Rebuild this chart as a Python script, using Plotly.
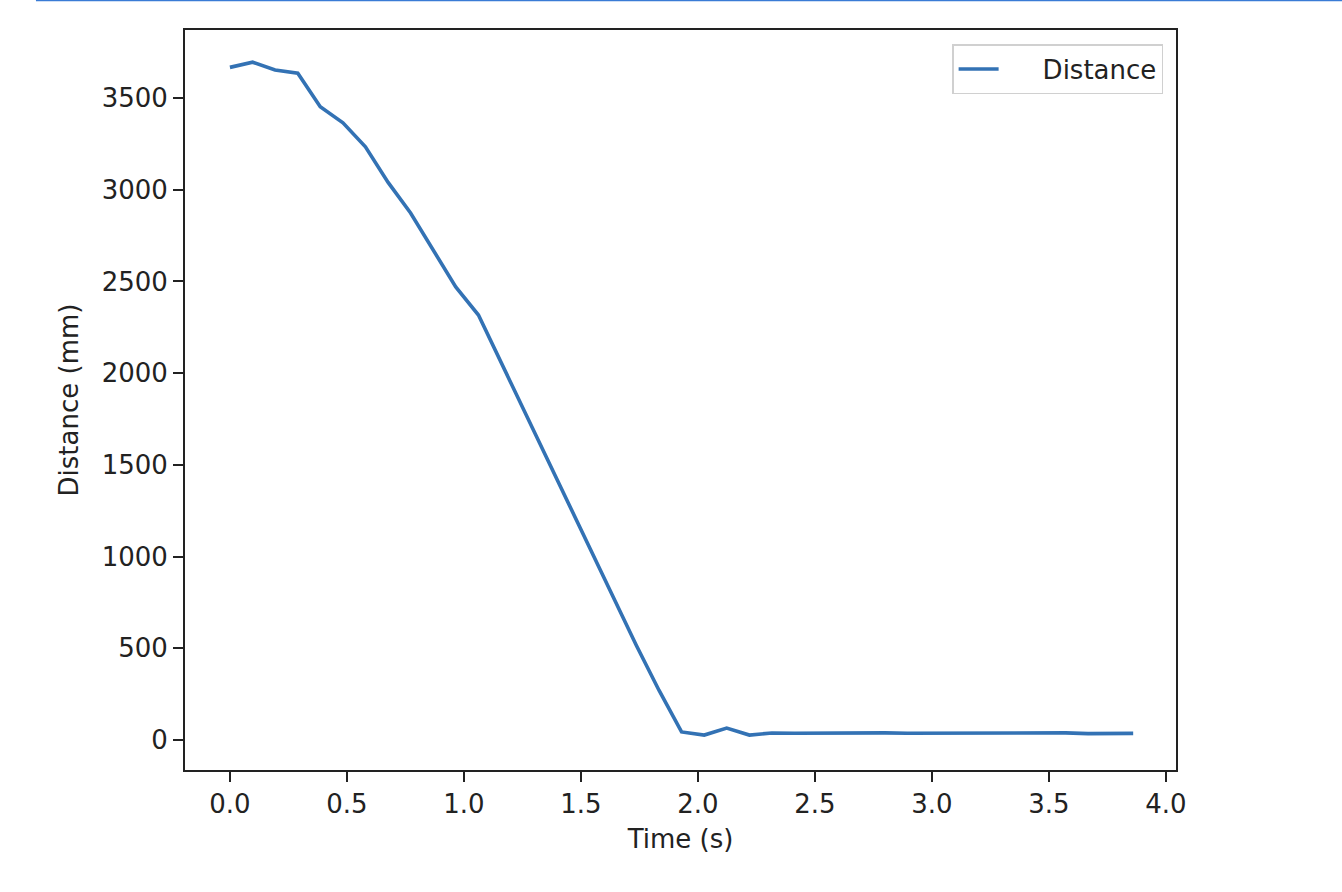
import plotly.graph_objects as go

time_s = [0.000, 0.097, 0.193, 0.290, 0.386, 0.483, 0.579, 0.676, 0.772, 0.869,
          0.965, 1.062, 1.158, 1.255, 1.351, 1.448, 1.544, 1.641, 1.737, 1.834,
          1.930, 2.027, 2.123, 2.220, 2.316, 2.413, 2.509, 2.606, 2.702, 2.799,
          2.895, 2.992, 3.088, 3.185, 3.281, 3.378, 3.474, 3.571, 3.667, 3.764,
          3.860]
distance_mm = [3667, 3695, 3653, 3635, 3452, 3365, 3234, 3040, 2873, 2666,
               2470, 2317, 2060, 1800, 1540, 1285, 1025, 770, 515, 270,
               44, 27, 65, 27, 38, 37, 38, 38, 37, 39,
               37, 37, 38, 38, 37, 38, 40, 39, 35, 35, 36]

x_ticks = [0.0, 0.5, 1.0, 1.5, 2.0, 2.5, 3.0, 3.5, 4.0]
y_ticks = [0, 500, 1000, 1500, 2000, 2500, 3000, 3500]

ink = "#222222"
font = dict(family="DejaVu Sans", size=26, color=ink)

fig = go.Figure()
# em/en space in the name just pushes the label away from the line sample
fig.add_trace(go.Scatter(x=time_s, y=distance_mm, mode="lines", name="\u2003\u2002Distance",
                         line=dict(color="#3372b4", width=3.6)))

axis_common = dict(showline=True, linecolor=ink, linewidth=2, mirror=True,
                   ticks="outside", ticklen=10, tickwidth=2, tickcolor=ink,
                   showgrid=False, zeroline=False, tickfont=font)

fig.update_xaxes(range=[-0.192, 4.043], tickvals=x_ticks,
                 ticktext=[f"{v:.1f}" for v in x_ticks],
                 title=dict(text="Time (s)", font=font, standoff=12), **axis_common)
fig.update_yaxes(range=[-163.5, 3870.7], tickvals=y_ticks,
                 title=dict(text="Distance (mm)", font=font, standoff=16), **axis_common)

# thin blue rule along the very top of the screenshot
fig.add_shape(type="line", xref="paper", yref="paper", x0=-0.1504, x1=1.1675,
              y0=1.0399, y1=1.0399, line=dict(color="#3a7bd5", width=1.5))

fig.update_layout(
    width=1342, height=892,
    margin=dict(l=185, r=166, t=30, b=122, autoexpand=False),
    paper_bgcolor="white", plot_bgcolor="white",
    font=font,
    showlegend=True,
    legend=dict(x=0.987, y=0.981, xanchor="right", yanchor="top",
                bordercolor="#d0d0d0", borderwidth=1.5, bgcolor="white",
                itemwidth=40, font=font),
)

# browser default body margin would shift everything by 8px
fig.write_html("out.html", config={"displayModeBar": False},
               post_script="document.body.style.margin='0';")
